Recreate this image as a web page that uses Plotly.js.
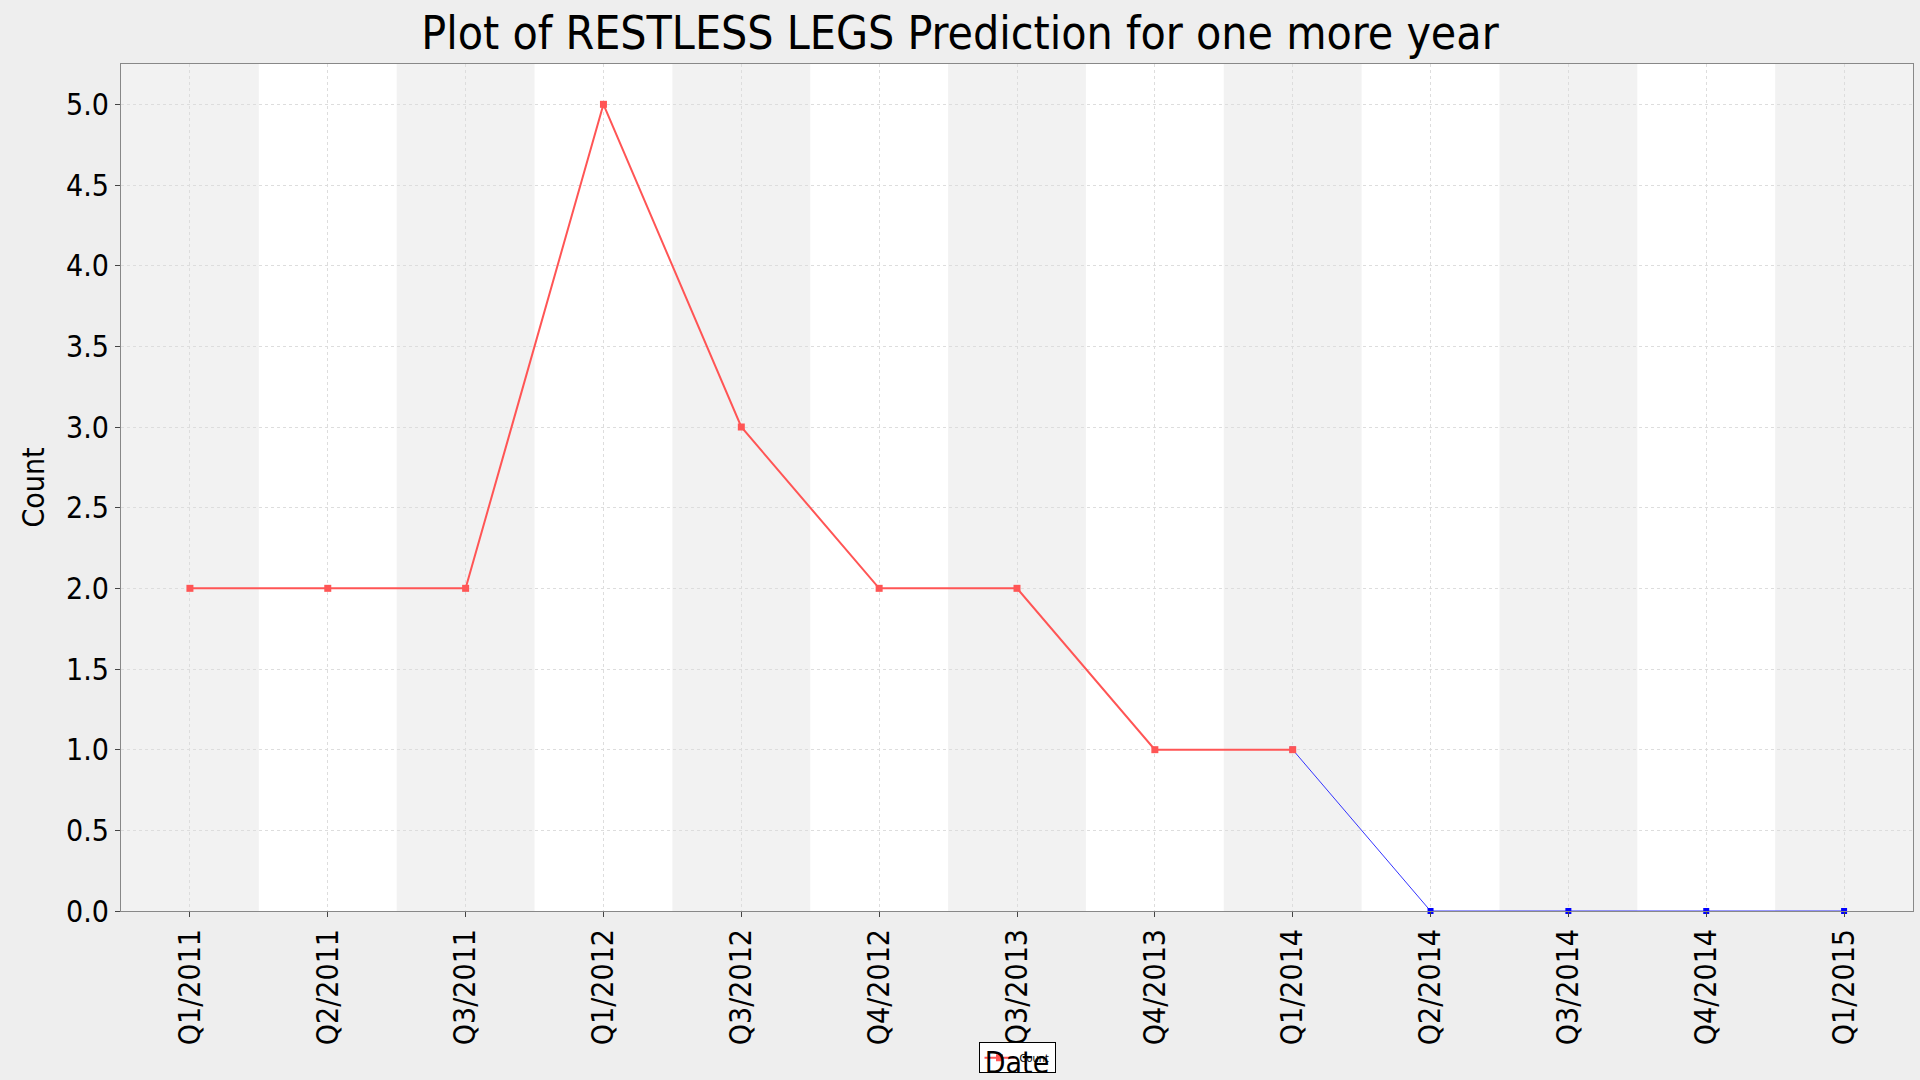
<!DOCTYPE html>
<html>
<head>
<script src="https://cdn.plot.ly/plotly-3.0.1.min.js"></script>
<style>body{margin:0;background:#eeeeee}#graph{width:1920px;height:1080px}</style>
</head>
<body>
<div id="graph"></div>
<script>
const quarters = ['Q1/2011','Q2/2011','Q3/2011','Q1/2012','Q3/2012','Q4/2012','Q3/2013',
  'Q4/2013','Q1/2014','Q2/2014','Q3/2014','Q4/2014','Q1/2015'];
const actualDates = quarters.slice(0, 9);
const actualCounts = [2, 2, 2, 5, 3, 2, 2, 1, 1];
const predDates = quarters.slice(8);
const predCounts = [1, 0, 0, 0, 0];

const bands = [];
for (let i = 0; i < quarters.length; i += 2) {
  bands.push({type:'rect', xref:'x', yref:'paper', x0:i-0.5, x1:i+0.5, y0:0, y1:1,
    fillcolor:'#f2f2f2', line:{width:0}, layer:'below'});
}

const pred = {
  x: predDates, y: predCounts, mode:'lines+markers', name:'Prediction', showlegend:false,
  line:{color:'#3333ff', width:1}, marker:{symbol:'square', size:6, color:'#0000ff'}, cliponaxis:false
};
const actual = {
  x: actualDates, y: actualCounts, mode:'lines+markers', name:'Count',
  line:{color:'#ff5555', width:2}, marker:{symbol:'square', size:7, color:'#ff5555'}
};

const layout = {
  paper_bgcolor:'#eeeeee', plot_bgcolor:'#ffffff',
  font:{family:'DejaVu Sans Condensed, DejaVu Sans', color:'#000'},
  margin:{l:121, r:7, t:64, b:148},
  title:{text:'Plot of RESTLESS LEGS Prediction for one more year', x:0.5, y:0.97, yanchor:'middle', font:{size:46}},
  xaxis:{type:'category', categoryorder:'array', categoryarray:quarters, range:[-0.5, 12.5],
    tickangle:-90, tickfont:{size:30}, showgrid:true, gridcolor:'#dddddd', griddash:'dot',
    ticks:'outside', ticklen:5, linecolor:'#888', mirror:true, showline:true,
    title:{text:'Date', font:{size:30}, standoff:8}},
  yaxis:{range:[0, 5.25], dtick:0.5, tickformat:'.1f', tickfont:{size:30},
    showgrid:true, gridcolor:'#dddddd', griddash:'dot', zeroline:false,
    ticks:'outside', ticklen:5, linecolor:'#888', mirror:true, showline:true,
    title:{text:'Count', font:{size:30}, standoff:12}},
  shapes: bands,
  legend:{orientation:'h', x:0.5, xanchor:'center', y:-0.155, yanchor:'top',
    bgcolor:'#ffffff', bordercolor:'#000', borderwidth:1, font:{size:11}},
};
Plotly.newPlot('graph', [pred, actual], layout, {displayModeBar:false});
</script>
</body>
</html>
